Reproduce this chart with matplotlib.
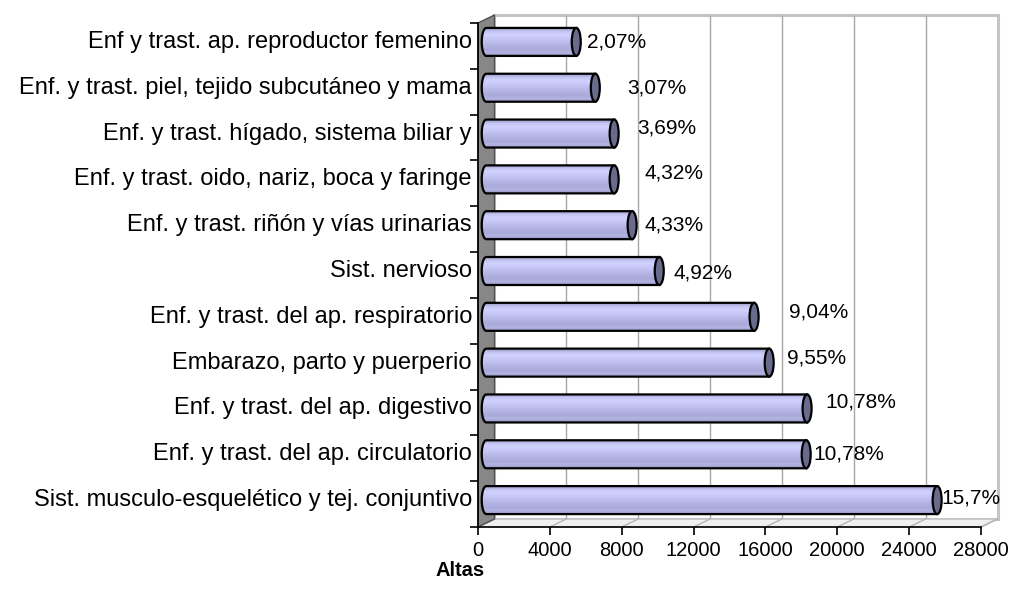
import numpy as np
import matplotlib
matplotlib.use("Agg")
import matplotlib.pyplot as plt
from matplotlib.patches import Rectangle, Polygon, Ellipse, PathPatch
from matplotlib.path import Path
import matplotlib.colors as mcolors

plt.rcParams['font.family'] = ['Liberation Sans', 'DejaVu Sans']

# datos (de arriba a abajo)
categorias = [
    "Enf y trast. ap. reproductor femenino",
    "Enf. y trast. piel, tejido subcutáneo y mama",
    "Enf. y trast. hígado, sistema biliar y",
    "Enf. y trast. oido, nariz, boca y faringe",
    "Enf. y trast. riñón y vías urinarias",
    "Sist. nervioso",
    "Enf. y trast. del ap. respiratorio",
    "Embarazo, parto y puerperio",
    "Enf. y trast. del ap. digestivo",
    "Enf. y trast. del ap. circulatorio",
    "Sist. musculo-esquelético y tej. conjuntivo",
]
altas = [5010, 6070, 7120, 7120, 8120, 9630, 14910, 15750, 17860, 17810, 25100]
etiquetas = ["2,07%", "3,07%", "3,69%", "4,32%", "4,33%", "4,92%",
             "9,04%", "9,55%", "10,78%", "10,78%", "15,7%"]
# desplazamiento manual de las etiquetas (pixeles)
etiq_off = [(11, 0), (32, 0), (23, 6), (30, 6), (12, 0), (14, -2),
            (35, 5), (18, 5), (18, 6), (7, 0), (4, 2)]
xticks = list(range(0, 28001, 4000))

W, H = 1012, 601
fig = plt.figure(figsize=(W / 100, H / 100), dpi=100)
ax = fig.add_axes([478 / W, 1 - 527 / H, (981 - 478) / W, (527 - 23) / H])
xmax = 28000
n = len(categorias)
ax.set_xlim(0, xmax)
ax.set_ylim(-0.5, n - 0.5)

# profundidad 3D en unidades de datos
DX = 16.5 * xmax / (981 - 478)
DY = 8 * n / (527 - 23)

# pared del fondo + cuadricula
ax.add_patch(Rectangle((DX, -0.5 + DY), xmax, n, fc='white', ec='#c4c4c4',
                       lw=2.2, zorder=0, clip_on=False))
ax.vlines([t + DX for t in xticks[1:-1]], -0.5 + DY, n - 0.5 + DY,
          color='#a8a8a8', lw=1, zorder=0.5, clip_on=False)
# suelo
ax.add_patch(Polygon([(0, -0.5), (xmax, -0.5), (xmax + DX, -0.5 + DY), (DX, -0.5 + DY)],
                     closed=True, fc='#f0f0f0', ec='#c4c4c4', lw=1.2, zorder=0.6, clip_on=False))
for t in xticks:
    ax.plot([t, t + DX], [-0.5, -0.5 + DY], color='#b4b4b4', lw=1, zorder=0.7, clip_on=False)
# pared lateral
ax.add_patch(Polygon([(0, -0.5), (0, n - 0.5), (DX, n - 0.5 + DY), (DX, -0.5 + DY)],
                     closed=True, fc='#878787', ec='#505050', lw=1, zorder=0.8, clip_on=False))

# barras cilindricas
rx = 4.5 * xmax / (981 - 478)
bh = 28 * n / (527 - 23)
grad_cols = ['#9c9cc8', '#c4c4f2', '#d2d2fe', '#cacafa', '#c2c2f2', '#b8b8e8',
             '#b0b0e0', '#aaaada', '#b4b4e2', '#9898c4']
cmap = mcolors.LinearSegmentedColormap.from_list('cil', grad_cols)
grad = np.linspace(0, 1, 64).reshape(-1, 1)

for i, (cat, v, lab, off) in enumerate(zip(categorias, altas, etiquetas, etiq_off)):
    yc = n - 1 - i + DY / 2
    x0 = DX / 2
    x1 = v + DX / 2
    th = np.linspace(np.pi / 2, 3 * np.pi / 2, 30)
    verts = [(x0 + rx * np.cos(a), yc + bh / 2 * np.sin(a)) for a in th]
    verts += [(x1, yc - bh / 2), (x1, yc + bh / 2), (x0, yc + bh / 2)]
    codes = [Path.MOVETO] + [Path.LINETO] * (len(verts) - 1)
    path = Path(verts, codes)
    body = PathPatch(path, fc='none', ec='black', lw=1.6, zorder=3, clip_on=False)
    ax.add_patch(body)
    im = ax.imshow(grad, cmap=cmap, aspect='auto', origin='upper',
                   extent=[x0 - rx, x1, yc - bh / 2, yc + bh / 2],
                   interpolation='bilinear', zorder=2)
    clip = PathPatch(path, fc='none', ec='none', transform=ax.transData)
    im.set_clip_path(clip)
    ax.add_patch(Ellipse((x1, yc), 2 * rx, bh, fc='#6a6a8c', ec='black', lw=1.6,
                         zorder=4, clip_on=False))
    ax.annotate(lab, xy=(x1, yc), xytext=off, textcoords='offset pixels',
                ha='left', va='center', fontsize=15, zorder=5)
    # etiqueta de categoria
    ax.annotate(cat, xy=(0, yc), xytext=(-6, 0), textcoords='offset pixels',
                ha='right', va='center', fontsize=17, annotation_clip=False)

ax.set_xlim(0, xmax)
ax.set_ylim(-0.5, n - 0.5)

# ejes
for s in ['top', 'right']:
    ax.spines[s].set_visible(False)
for s in ['left', 'bottom']:
    ax.spines[s].set_color('black')
    ax.spines[s].set_linewidth(1.2)
    ax.spines[s].set_zorder(6)
ax.set_xticks(xticks)
ax.set_xticklabels([str(t) for t in xticks], fontsize=14.5)
ax.tick_params(axis='x', direction='out', length=6, width=1.2, pad=4)
ax.set_yticks(np.arange(-0.5, n, 1))
ax.set_yticklabels([])
ax.tick_params(axis='y', which='major', direction='out', length=6, width=1.2)

fig.text(460 / W, 1 - 570 / H, "Altas", ha='center', va='center',
         fontsize=14.5, fontweight='bold')

fig.savefig("out.png", dpi=100, facecolor='white')
